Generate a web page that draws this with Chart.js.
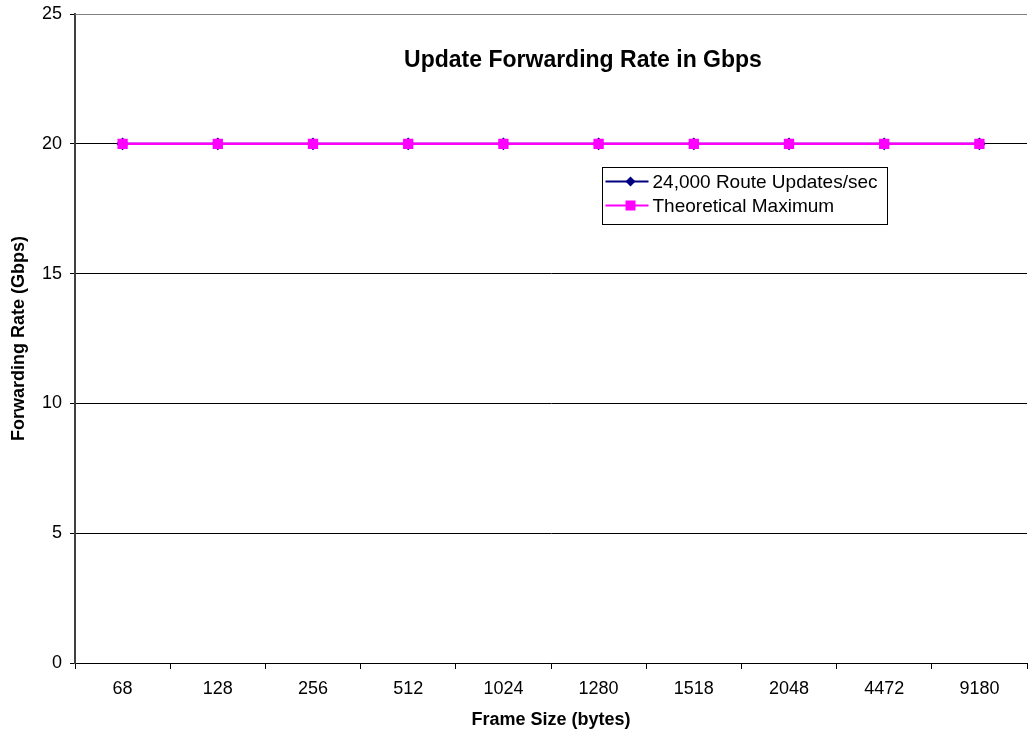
<!DOCTYPE html>
<html>
<head>
<meta charset="utf-8">
<script src="https://cdn.jsdelivr.net/npm/chart.js@4"></script>
<style>
  html, body { margin: 0; padding: 0; background: #fff; }
  #wrap { width: 1028px; height: 735px; }
</style>
</head>
<body>
<div id="wrap"><canvas id="c" width="1028" height="735"></canvas></div>
<script>
const frameSizes = ['68', '128', '256', '512', '1024', '1280', '1518', '2048', '4472', '9180'];
const routeUpdates = [20, 20, 20, 20, 20, 20, 20, 20, 20, 20];
const theoreticalMax = [20, 20, 20, 20, 20, 20, 20, 20, 20, 20];
const seriesNames = ['24,000 Route Updates/sec', 'Theoretical Maximum'];
const chartTitle = 'Update Forwarding Rate in Gbps';
const xTitle = 'Frame Size (bytes)';
const yTitle = 'Forwarding Rate (Gbps)';

const FONT = 'Arial, "Liberation Sans", sans-serif';

// Title and boxed legend drawn inside the plot area
const insidePlot = {
  id: 'insidePlot',
  afterDraw(chart) {
    const ctx = chart.ctx;
    const a = chart.chartArea;
    ctx.save();
    ctx.fillStyle = '#000';
    ctx.font = 'bold 23px ' + FONT;
    ctx.textAlign = 'center';
    ctx.textBaseline = 'middle';
    ctx.fillText(chartTitle, 583, a.top + 47);

    // legend box
    const bx = 602.5, by = 167.5, bw = 285, bh = 57;
    ctx.fillStyle = '#fff';
    ctx.fillRect(bx, by, bw, bh);
    ctx.strokeStyle = '#000';
    ctx.lineWidth = 1;
    ctx.strokeRect(bx, by, bw, bh);

    const entries = [
      { color: '#000080', style: 'rectRot' },
      { color: '#FF00FF', style: 'rect' }
    ];
    entries.forEach((e, i) => {
      const y = by + 14 + i * 24;
      ctx.strokeStyle = e.color;
      ctx.lineWidth = 2;
      ctx.beginPath();
      ctx.moveTo(bx + 3, y);
      ctx.lineTo(bx + 46, y);
      ctx.stroke();
      ctx.fillStyle = e.color;
      const cx = bx + 28;
      if (e.style === 'rectRot') {
        ctx.beginPath();
        ctx.moveTo(cx, y - 5);
        ctx.lineTo(cx + 5, y);
        ctx.lineTo(cx, y + 5);
        ctx.lineTo(cx - 5, y);
        ctx.closePath();
        ctx.fill();
      } else {
        ctx.fillRect(cx - 5, y - 5, 10, 10);
      }
      ctx.fillStyle = '#000';
      ctx.font = '19px ' + FONT;
      ctx.textAlign = 'left';
      ctx.textBaseline = 'middle';
      ctx.fillText(seriesNames[i], bx + 50, y + 1);
    });
    ctx.restore();
  }
};

// Grey top border of the plot area
const plotBorder = {
  id: 'plotBorder',
  beforeDatasetsDraw(chart) {
    const ctx = chart.ctx;
    const a = chart.chartArea;
    ctx.save();
    ctx.strokeStyle = '#808080';
    ctx.lineWidth = 1;
    ctx.beginPath();
    ctx.moveTo(a.left, Math.round(a.top) + 0.5);
    ctx.lineTo(a.right, Math.round(a.top) + 0.5);
    ctx.stroke();
    ctx.restore();
  }
};

new Chart(document.getElementById('c'), {
  type: 'line',
  data: {
    labels: frameSizes,
    datasets: [
      {
        label: seriesNames[0],
        data: routeUpdates,
        order: 1,
        borderColor: '#000080',
        backgroundColor: '#000080',
        pointBackgroundColor: '#000080',
        pointBorderColor: '#000080',
        pointStyle: 'rectRot',
        pointRadius: 5,
        borderWidth: 2,
        tension: 0
      },
      {
        label: seriesNames[1],
        data: theoreticalMax,
        order: 0,
        borderColor: '#FF00FF',
        backgroundColor: '#FF00FF',
        pointBackgroundColor: '#FF00FF',
        pointBorderColor: '#FF00FF',
        pointStyle: 'rect',
        pointRadius: 5.5,
        borderWidth: 2.5,
        tension: 0
      }
    ]
  },
  options: {
    responsive: false,
    animation: false,
    devicePixelRatio: 1,
    layout: { autoPadding: false, padding: { top: 14, right: 1, left: 0, bottom: 0 } },
    plugins: {
      legend: { display: false },
      title: { display: false },
      tooltip: { enabled: false }
    },
    scales: {
      x: {
        type: 'category',
        offset: true,
        grid: {
          offset: true,
          drawOnChartArea: false,
          drawTicks: true,
          tickLength: 6,
          color: '#000'
        },
        border: { display: true, color: '#000', width: 1 },
        ticks: {
          color: '#000',
          font: { family: FONT, size: 18 },
          padding: 9,
          maxRotation: 0,
          autoSkip: false
        },
        title: {
          display: true,
          text: xTitle,
          color: '#000',
          font: { family: FONT, size: 18, weight: 'bold' },
          padding: { top: 2, bottom: 4 }
        },
        afterFit(scale) {
          scale.height = 72;
          scale.paddingLeft = 0;
          scale.paddingRight = 0;
        }
      },
      y: {
        min: 0,
        max: 25,
        ticks: {
          stepSize: 5,
          color: '#000',
          font: { family: FONT, size: 18 },
          padding: 8
        },
        grid: {
          color: (c) => c.tick && c.tick.value === 25 ? 'rgba(0,0,0,0)' : '#000',
          lineWidth: 1,
          drawTicks: true,
          tickLength: 5,
          tickColor: '#000'
        },
        border: { display: true, color: '#404040', width: 2 },
        title: {
          display: true,
          text: yTitle,
          color: '#000',
          font: { family: FONT, size: 18, weight: 'bold' },
          padding: { top: 8, bottom: 0 }
        },
        afterFit(scale) {
          scale.width = 75;
          scale.paddingTop = 0;
          scale.paddingBottom = 0;
        }
      }
    }
  },
  plugins: [plotBorder, insidePlot]
});
</script>
</body>
</html>
